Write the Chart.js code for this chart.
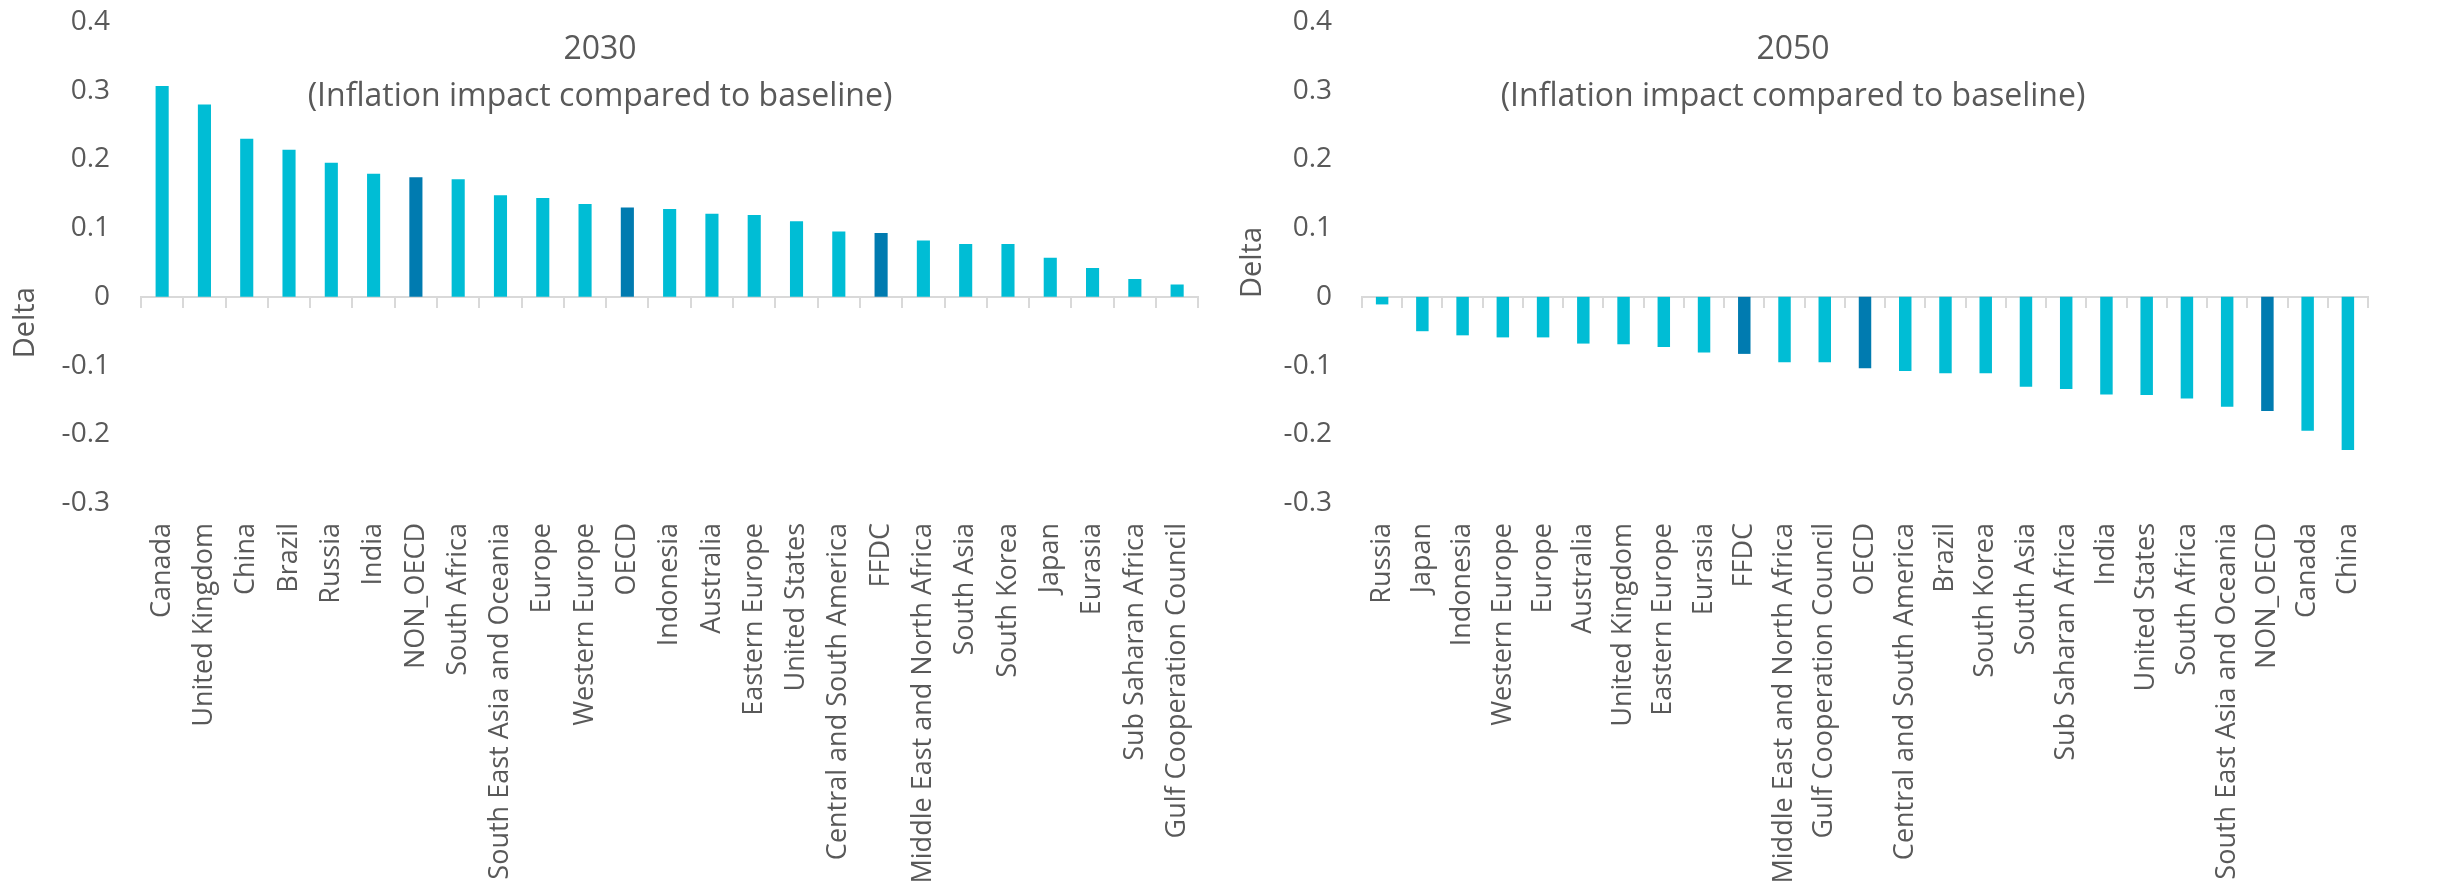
<!DOCTYPE html>
<html>
<head>
<meta charset="utf-8">
<title>Inflation impact compared to baseline</title>
<script src="https://cdn.jsdelivr.net/npm/chart.js@4.4.1/dist/chart.umd.min.js"></script>
<style>
  html, body { margin: 0; padding: 0; background: #ffffff; overflow: hidden; }
  #wrap { position: relative; width: 2445px; height: 881px; }
  #wrap canvas { position: absolute; top: 0; }
</style>
</head>
<body>
<div id="wrap">
  <canvas id="c2030" width="1222" height="881" style="left:0;width:1222px;height:881px"></canvas>
  <canvas id="c2050" width="1223" height="881" style="left:1222px;width:1223px;height:881px"></canvas>
</div>
<script>
// Regions and inflation deltas versus baseline, 2030
const regions2030 = ['Canada', 'United Kingdom', 'China', 'Brazil', 'Russia', 'India', 'NON_OECD',
  'South Africa', 'South East Asia and Oceania', 'Europe', 'Western Europe', 'OECD', 'Indonesia',
  'Australia', 'Eastern Europe', 'United States', 'Central and South America', 'FFDC',
  'Middle East and North Africa', 'South Asia', 'South Korea', 'Japan', 'Eurasia',
  'Sub Saharan Africa', 'Gulf Cooperation Council'];
const delta2030 = [0.307, 0.280, 0.230, 0.214, 0.195, 0.179, 0.174, 0.171, 0.148, 0.144, 0.135,
  0.130, 0.128, 0.121, 0.119, 0.110, 0.095, 0.093, 0.082, 0.077, 0.077, 0.057, 0.042, 0.026, 0.018];

// Regions and inflation deltas versus baseline, 2050
const regions2050 = ['Russia', 'Japan', 'Indonesia', 'Western Europe', 'Europe', 'Australia',
  'United Kingdom', 'Eastern Europe', 'Eurasia', 'FFDC', 'Middle East and North Africa',
  'Gulf Cooperation Council', 'OECD', 'Central and South America', 'Brazil', 'South Korea',
  'South Asia', 'Sub Saharan Africa', 'India', 'United States', 'South Africa',
  'South East Asia and Oceania', 'NON_OECD', 'Canada', 'China'];
const delta2050 = [-0.011, -0.050, -0.056, -0.059, -0.059, -0.068, -0.069, -0.073, -0.081, -0.083,
  -0.095, -0.095, -0.104, -0.108, -0.111, -0.111, -0.131, -0.134, -0.142, -0.143, -0.148, -0.160,
  -0.166, -0.195, -0.223];

// Aggregate groups get the darker shade
const aggregates = ['NON_OECD', 'OECD', 'FFDC'];

// Value axis ticks
const yTickValues = [-0.3, -0.2, -0.1, 0, 0.1, 0.2, 0.3, 0.4];
const yTickLabels = ['-0.3', '-0.2', '-0.1', '0', '0.1', '0.2', '0.3', '0.4'];

const heading2030 = ['2030', '(Inflation impact compared to baseline)'];
const heading2050 = ['2050', '(Inflation impact compared to baseline)'];
const axisTitle = 'Delta';

const TEXT = '#595959';
const AXIS = '#D9D9D9';
const BAR = '#00BDD5';
const BAR_DARK = '#007BB0';
const FONT = "'Open Sans', 'Noto Sans', sans-serif";

Chart.defaults.font.family = FONT;
Chart.defaults.color = TEXT;

// Two-line heading drawn inside the plot area
const headingPlugin = {
  id: 'heading',
  afterDraw(chart, args, opts) {
    const ctx = chart.ctx;
    ctx.save();
    ctx.fillStyle = opts.color;
    ctx.textAlign = 'center';
    ctx.textBaseline = 'alphabetic';
    ctx.font = opts.size + 'px ' + FONT;
    opts.lines.forEach((line, i) => ctx.fillText(line, opts.x, opts.baselines[i]));
    ctx.restore();
  }
};

function makeChart(id, labels, values, heading, frame) {
  const colors = labels.map(l => aggregates.includes(l) ? BAR_DARK : BAR);
  return new Chart(document.getElementById(id), {
    type: 'bar',
    data: {
      labels: labels,
      datasets: [{
        data: values,
        backgroundColor: colors,
        borderWidth: 0,
        categoryPercentage: 1,
        barPercentage: 0.31,
        xAxisID: 'x',
        yAxisID: 'y'
      }]
    },
    plugins: [headingPlugin],
    options: {
      responsive: false,
      animation: false,
      devicePixelRatio: 1,
      layout: { padding: { top: 22, right: frame.padRight, bottom: 0, left: 0 } },
      plugins: {
        legend: { display: false },
        tooltip: { enabled: false },
        heading: { lines: heading, x: frame.headingX, baselines: [59, 106], size: 32, color: TEXT }
      },
      scales: {
        x: {
          type: 'category',
          position: 'bottom',
          offset: true,
          grid: { display: false },
          border: { display: false },
          ticks: {
            autoSkip: false,
            maxRotation: 90,
            minRotation: 90,
            padding: 12,
            color: TEXT,
            font: { size: 27 }
          },
          afterFit(scale) { scale.height = 378; }
        },
        x0: {
          type: 'category',
          position: { y: 0 },
          offset: true,
          grid: {
            display: true,
            drawOnChartArea: false,
            drawTicks: true,
            tickLength: 10,
            offset: true,
            color: AXIS,
            lineWidth: 2
          },
          border: { display: true, color: AXIS, width: 2 },
          ticks: { display: false }
        },
        y: {
          type: 'linear',
          position: 'left',
          min: -0.3,
          max: 0.4,
          grid: { display: false, drawTicks: false },
          border: { display: false },
          afterBuildTicks(scale) { scale.ticks = yTickValues.map(v => ({ value: v })); },
          ticks: {
            padding: frame.tickPad,
            color: TEXT,
            font: { size: 28 },
            callback: (v, i) => yTickLabels[i]
          },
          title: {
            display: true,
            text: frame.titleText,
            color: TEXT,
            font: { size: 29 },
            padding: { top: frame.titlePad, bottom: 0 }
          },
          afterFit(scale) {
            scale.width = frame.left;
            scale.paddingTop = 0;
            scale.paddingBottom = 0;
          }
        }
      }
    }
  });
}

makeChart('c2030', regions2030, delta2030, heading2030, {
  left: 141, padRight: 23, headingX: 600, tickPad: 31, titlePad: 8,
  titleText: axisTitle + '\u00A0'.repeat(16)
});
makeChart('c2050', regions2050, delta2050, heading2050, {
  left: 140, padRight: 77, headingX: 571, tickPad: 30, titlePad: 13,
  titleText: axisTitle
});
</script>
</body>
</html>
